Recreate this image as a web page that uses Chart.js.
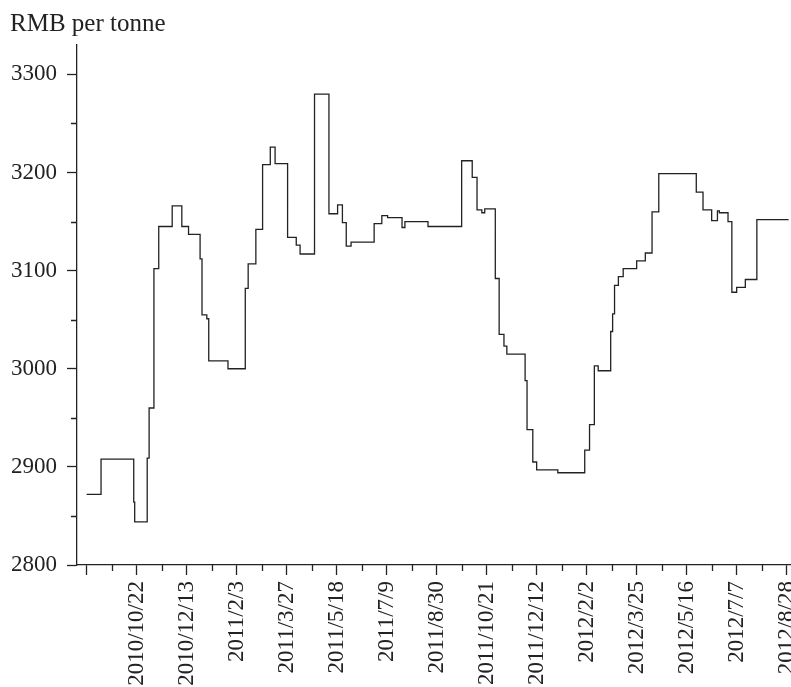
<!DOCTYPE html>
<html>
<head>
<meta charset="utf-8">
<title>RMB per tonne</title>
<script src="https://cdn.jsdelivr.net/npm/chart.js@4.4.1/dist/chart.umd.min.js"></script>
<style>
    html, body { margin: 0; padding: 0; background: #fff; }
    canvas { display: block; }
</style>
</head>
<body>
<canvas id="priceChart" width="791" height="687"></canvas>
<script>
// Dates on which the price changed, and the price from that day on
const changeDates = [
    '2010/8/31', '2010/9/15', '2010/10/19', '2010/10/20', '2010/11/2', '2010/11/4', '2010/11/9', '2010/11/14', '2010/11/28', '2010/12/8',
    '2010/12/15', '2010/12/27', '2010/12/29', '2011/1/3', '2011/1/5', '2011/1/25', '2011/2/12', '2011/2/15', '2011/2/23', '2011/3/2',
    '2011/3/10', '2011/3/15', '2011/3/28', '2011/4/6', '2011/4/10', '2011/4/25', '2011/5/10', '2011/5/19', '2011/5/24', '2011/5/28',
    '2011/6/2', '2011/6/26', '2011/7/4', '2011/7/10', '2011/7/25', '2011/7/28', '2011/8/21', '2011/9/25', '2011/10/6', '2011/10/11',
    '2011/10/16', '2011/10/19', '2011/10/30', '2011/11/3', '2011/11/8', '2011/11/11', '2011/11/30', '2011/12/2', '2011/12/8', '2011/12/12',
    '2012/1/3', '2012/1/31', '2012/2/5', '2012/2/10', '2012/2/14', '2012/2/27', '2012/2/29', '2012/3/2', '2012/3/6', '2012/3/11',
    '2012/3/25', '2012/4/3', '2012/4/10', '2012/4/17', '2012/5/26', '2012/6/2', '2012/6/11', '2012/6/17', '2012/6/19', '2012/6/28',
    '2012/7/2', '2012/7/7', '2012/7/16', '2012/7/28', '2012/8/30'
];
const prices = [
    2872, 2908, 2864, 2844, 2909, 2960, 3102, 3145, 3166, 3145,
    3137, 3112, 3055, 3051, 3008, 3000, 3082, 3107, 3142, 3208,
    3226, 3209, 3134, 3126, 3117, 3280, 3158, 3167, 3149, 3125,
    3129, 3148, 3156, 3154, 3144, 3150, 3145, 3212, 3195, 3162,
    3159, 3163, 3092, 3035, 3023, 3015, 2988, 2938, 2905, 2897,
    2894, 2917, 2943, 3003, 2998, 3038, 3056, 3085, 3094, 3102,
    3110, 3118, 3160, 3199, 3180, 3162, 3151, 3161, 3159, 3150,
    3078, 3083, 3091, 3152, 3152
];

// Labelled dates under the x axis (the first tick, at the series start, has no label)
const startDate = '2010/8/31';
const tickLabels = [
    '2010/10/22', '2010/12/13', '2011/2/3', '2011/3/27', '2011/5/18', '2011/7/9', '2011/8/30',
    '2011/10/21', '2011/12/12', '2012/2/2', '2012/3/25', '2012/5/16', '2012/7/7', '2012/8/28'
];

// Y axis ticks
const yTicks = [2800, 2900, 3000, 3100, 3200, 3300];
const yMinorTicks = [2850, 2950, 3050, 3150, 3250];

const axisColor = '#222';
const fontFamily = "'Liberation Serif', 'Times New Roman', serif";

// Days since the first date of the series
function dayOf(dateString) {
    const [y, m, d] = dateString.split('/').map(Number);
    const [y0, m0, d0] = startDate.split('/').map(Number);
    return Math.round((Date.UTC(y, m - 1, d) - Date.UTC(y0, m0 - 1, d0)) / 86400000);
}

const majorDays = [0].concat(tickLabels.map(dayOf));
const minorDays = majorDays.slice(1).map((d, i) => (d + majorDays[i]) / 2);
const labelByDay = {};
tickLabels.forEach((label) => {
    labelByDay[dayOf(label)] = label;
});

const points = changeDates.map((date, i) => ({ x: dayOf(date), y: prices[i] }));

// Short ticks half way between the long ones
const minorTicks = {
    id: 'minorTicks',
    afterDraw(chart) {
        const ctx = chart.ctx;
        const xScale = chart.scales.x;
        const yScale = chart.scales.y;
        ctx.save();
        ctx.strokeStyle = axisColor;
        ctx.lineWidth = 1.3;
        ctx.beginPath();
        yMinorTicks.forEach((v) => {
            const py = Math.round(yScale.getPixelForValue(v)) + 0.5;
            ctx.moveTo(yScale.right - 6, py);
            ctx.lineTo(yScale.right, py);
        });
        minorDays.forEach((d) => {
            const px = Math.round(xScale.getPixelForValue(d)) + 0.5;
            ctx.moveTo(px, xScale.top);
            ctx.lineTo(px, xScale.top + 6);
        });
        ctx.stroke();
        ctx.restore();
    }
};

const ctx = document.getElementById('priceChart').getContext('2d');
new Chart(ctx, {
    type: 'line',
    data: {
        datasets: [
            {
                data: points,
                stepped: true,
                borderColor: '#222',
                borderWidth: 1.3,
                pointRadius: 0,
                fill: false,
            },
        ],
    },
    options: {
        responsive: false,
        animation: false,
        devicePixelRatio: 1,
        layout: { padding: { left: 10, right: 0, top: 0, bottom: 0 } },
        plugins: {
            legend: { display: false },
            tooltip: { enabled: false },
            title: {
                display: true,
                text: 'RMB per tonne',
                align: 'start',
                color: '#222',
                font: { family: fontFamily, size: 25, weight: 'normal' },
                padding: { top: 9, bottom: 6 },
            },
        },
        scales: {
            x: {
                type: 'linear',
                min: -10,
                max: 732.5,
                afterBuildTicks: (scale) => {
                    scale.ticks = majorDays.map((d) => ({ value: d }));
                },
                afterFit: (scale) => {
                    scale.height = 122;
                    scale.paddingLeft = 0;
                    scale.paddingRight = 0;
                },
                grid: {
                    drawOnChartArea: false,
                    drawTicks: true,
                    tickLength: 10,
                    tickColor: axisColor,
                    tickWidth: 1.3,
                },
                border: { display: true, color: axisColor, width: 1.3 },
                ticks: {
                    autoSkip: false,
                    minRotation: 90,
                    maxRotation: 90,
                    padding: 6,
                    color: '#222',
                    font: { family: fontFamily, size: 23 },
                    callback: (value) => labelByDay[value] || '',
                },
            },
            y: {
                type: 'linear',
                min: 2800,
                max: 3330,
                afterBuildTicks: (scale) => {
                    scale.ticks = yTicks.map((v) => ({ value: v }));
                },
                afterFit: (scale) => {
                    scale.width = 67;
                    scale.paddingTop = 0;
                    scale.paddingBottom = 0;
                },
                grid: {
                    drawOnChartArea: false,
                    drawTicks: true,
                    tickLength: 10,
                    tickColor: axisColor,
                    tickWidth: 1.3,
                },
                border: { display: true, color: axisColor, width: 1.3 },
                ticks: {
                    padding: 10,
                    color: '#222',
                    font: { family: fontFamily, size: 23 },
                    callback: (value) => String(value),
                },
            },
        },
    },
    plugins: [minorTicks],
});
</script>
</body>
</html>
